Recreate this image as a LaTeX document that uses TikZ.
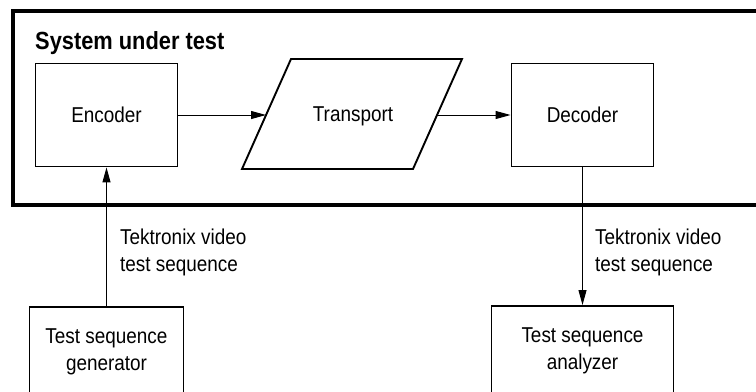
\documentclass[tikz,border=0pt]{standalone}
\usepackage{fontspec}
\setmainfont{Liberation Sans}[FakeStretch=0.88]
\usetikzlibrary{arrows.meta}
\tikzset{
  txt/.style={font=\fontsize{21.5bp}{27bp}\selectfont},
  blockbox/.style={txt,draw,line width=1.9bp,minimum width=142bp,minimum height=103bp,inner sep=0pt},
  lowbox/.style={txt,draw,line width=1.9bp,align=center,anchor=north,inner xsep=0pt,inner ysep=22bp},
  lbl/.style={txt,align=left,anchor=west,inner sep=0pt},
  conn/.style={line width=1bp,-{Triangle[length=15bp,width=8bp]}},
  frame/.style={line width=3.2bp},
  shapeline/.style={line width=1.9bp,line join=miter}
}
\begin{document}
\begin{tikzpicture}[x=1bp,y=-1bp]
\clip (0,0) rectangle (756,391);
\fill[white] (0,0) rectangle (756,391);
% system frame (open to the right)
\draw[frame] (770,11) -- (13,11) -- (13,205) -- (770,205);
\node[font=\fontsize{24.8bp}{28bp}\selectfont\bfseries,anchor=base west,inner sep=0pt] (title) at (35,49) {System under test};
% blocks
\node[blockbox] (enc) at (106.5,115) {Encoder};
\node[txt,inner sep=0pt] (tr) at (353,116) {Transport};
\draw[shapeline] (291,59) coordinate (trtl) -- (462,59) coordinate (trtr) -- (413,169) coordinate (trbr) -- (242,169) coordinate (trbl) -- cycle;
\coordinate (trin) at (266,115);
\coordinate (trout) at (438,115);
\node[blockbox] (dec) at (582.5,115) {Decoder};
\node[lowbox,minimum width=154bp] (gen) at (106.5,306) {Test sequence\\generator};
\node[lowbox,minimum width=182bp] (ana) at (582.5,305) {Test sequence\\analyzer};
% connectors
\draw[conn] (enc.east) -- (trin);
\draw[conn] (trout) -- (dec.west);
\draw[conn] (gen.north) -- (enc.south);
\draw[conn] (dec.south) -- (ana.north);
% labels
\node[lbl] (lin) at (120,252) {Tektronix video\\test sequence};
\node[lbl] (lout) at (595,252) {Tektronix video\\test sequence};
\end{tikzpicture}
\end{document}
